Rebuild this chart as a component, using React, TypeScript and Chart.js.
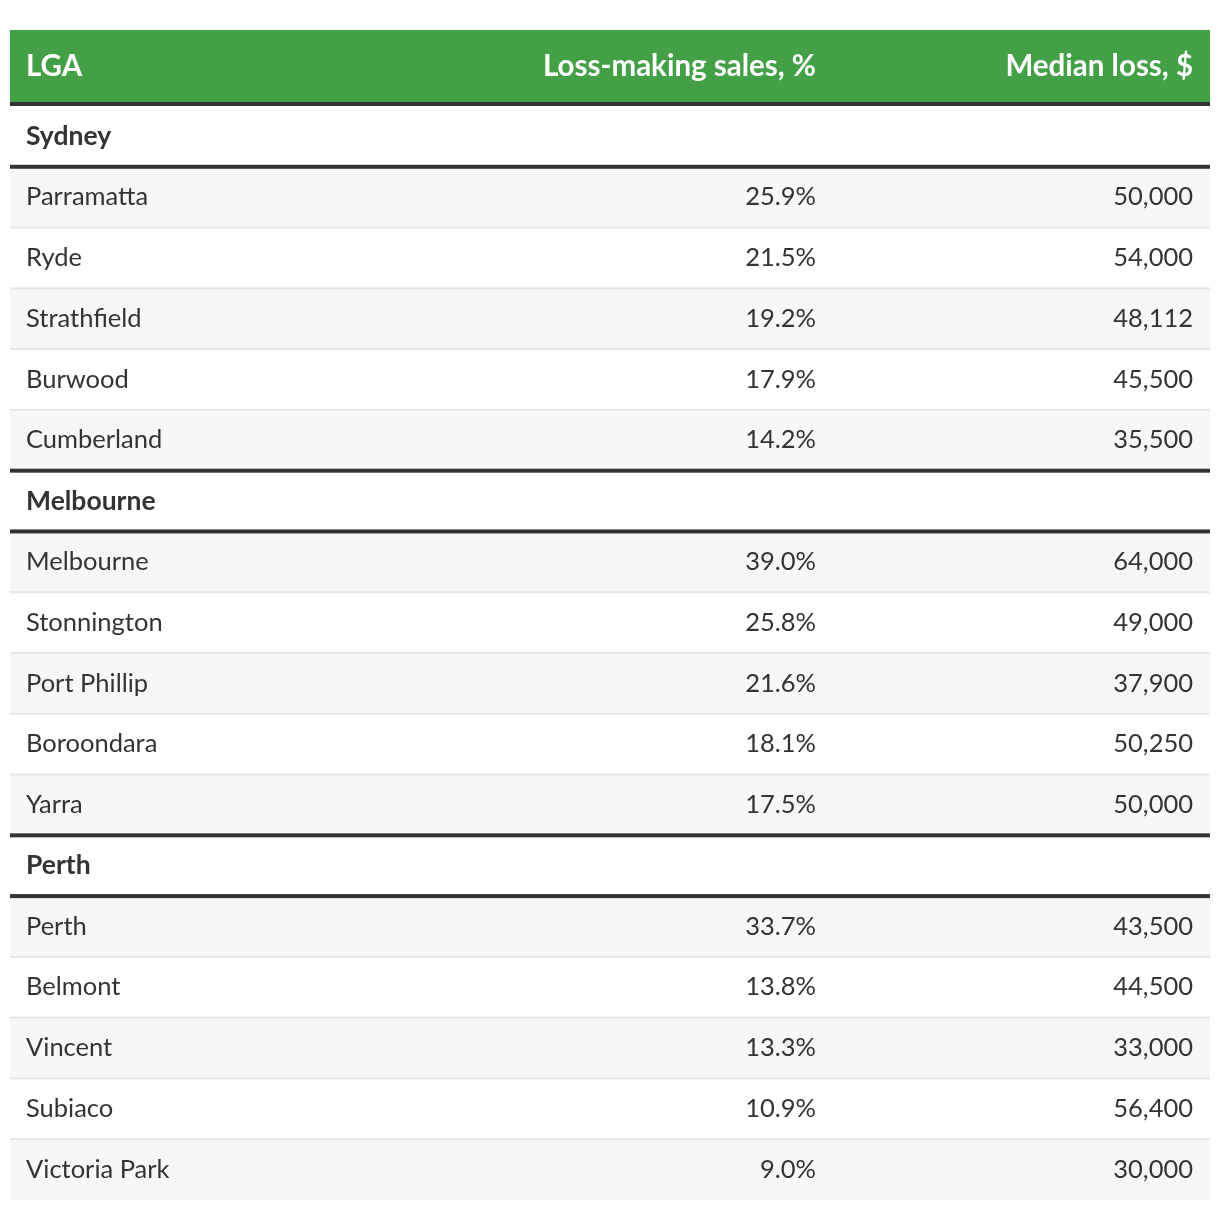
import React, { useEffect, useRef } from "react";
import { Chart, registerables } from "chart.js";

Chart.register(...registerables);

// ---- Data ----
const columnHeaders = ["LGA", "Loss-making sales, %", "Median loss, $"];
const cityGroups = ["Sydney", "Melbourne", "Perth"];

const sydneyLGAs = ["Parramatta", "Ryde", "Strathfield", "Burwood", "Cumberland"];
const sydneyLossPct = [25.9, 21.5, 19.2, 17.9, 14.2];
const sydneyMedianLoss = [50000, 54000, 48112, 45500, 35500];

const melbourneLGAs = ["Melbourne", "Stonnington", "Port Phillip", "Boroondara", "Yarra"];
const melbourneLossPct = [39.0, 25.8, 21.6, 18.1, 17.5];
const melbourneMedianLoss = [64000, 49000, 37900, 50250, 50000];

const perthLGAs = ["Perth", "Belmont", "Vincent", "Subiaco", "Victoria Park"];
const perthLossPct = [33.7, 13.8, 13.3, 10.9, 9.0];
const perthMedianLoss = [43500, 44500, 33000, 56400, 30000];

// ---- Style ----
const GREEN = "#43a047";
const DARK = "#333333";
const TEXT = "#333333";
const STRIPE = "#f7f7f7";
const LIGHT_BORDER = "#e6e6e6";
const FONT_FAMILY = 'Lato, "Open Sans", sans-serif';
const HEADER_FONT = `bold 29.5px ${FONT_FAMILY}`;
const GROUP_FONT = `bold 26.5px ${FONT_FAMILY}`;
const BODY_FONT = `25.5px ${FONT_FAMILY}`;
const HEADER_H = 72;
const HEADER_BORDER = 4;
// column anchors as fractions of table width
const colLeft = 16 / 1200;
const colPctRight = 806 / 1200;
const colLossRight = 1183 / 1200;

type Row =
  | { kind: "group"; label: string }
  | { kind: "data"; lga: string; pct: number; loss: number; stripe: boolean };

function buildRows(): Row[] {
  const sets = [
    [sydneyLGAs, sydneyLossPct, sydneyMedianLoss],
    [melbourneLGAs, melbourneLossPct, melbourneMedianLoss],
    [perthLGAs, perthLossPct, perthMedianLoss],
  ] as [string[], number[], number[]][];
  const rows: Row[] = [];
  cityGroups.forEach((g, gi) => {
    rows.push({ kind: "group", label: g });
    const [names, pcts, losses] = sets[gi];
    names.forEach((n, i) =>
      rows.push({ kind: "data", lga: n, pct: pcts[i], loss: losses[i], stripe: i % 2 === 0 })
    );
  });
  return rows;
}

export default function App() {
  const ref = useRef<HTMLCanvasElement | null>(null);

  useEffect(() => {
    if (!ref.current) return;
    const rows = buildRows();
    const labels = rows.map((r, i) => (r.kind === "group" ? r.label : r.lga) + "#" + i);

    const tablePlugin = {
      id: "tablePlugin",
      beforeDatasetsDraw(chart: any) {
        const ctx = chart.ctx;
        const w = chart.width;
        ctx.save();
        ctx.fillStyle = GREEN;
        ctx.fillRect(0, 0, w, HEADER_H);
        ctx.fillStyle = DARK;
        ctx.fillRect(0, HEADER_H, w, HEADER_BORDER);
        ctx.restore();
      },
      afterDatasetsDraw(chart: any) {
        const ctx = chart.ctx;
        const xs = chart.scales.x;
        const ys = chart.scales.y;
        const left = xs.left;
        const right = xs.right;
        const xL = xs.getPixelForValue(colLeft);
        const xP = xs.getPixelForValue(colPctRight);
        const xM = xs.getPixelForValue(colLossRight);
        ctx.save();
        // borders
        for (let i = 1; i < rows.length; i++) {
          const yb = (ys.getPixelForValue(i - 1) + ys.getPixelForValue(i)) / 2;
          const dark = rows[i].kind === "group" || rows[i - 1].kind === "group";
          if (dark) {
            ctx.fillStyle = DARK;
            ctx.fillRect(left, yb - 2, right - left, 4);
          } else {
            ctx.fillStyle = LIGHT_BORDER;
            ctx.fillRect(left, yb - 1, right - left, 2);
          }
        }
        // header text
        ctx.textBaseline = "middle";
        ctx.fillStyle = "#ffffff";
        ctx.font = HEADER_FONT;
        const hy = HEADER_H / 2;
        ctx.textAlign = "left";
        ctx.fillText(columnHeaders[0], xL, hy);
        ctx.textAlign = "right";
        ctx.fillText(columnHeaders[1], xP, hy);
        ctx.fillText(columnHeaders[2], xM, hy);
        // rows
        rows.forEach((r, i) => {
          const y = ys.getPixelForValue(i);
          ctx.fillStyle = TEXT;
          if (r.kind === "group") {
            ctx.font = GROUP_FONT;
            ctx.textAlign = "left";
            ctx.fillText(r.label, xL, y);
          } else {
            ctx.font = BODY_FONT;
            ctx.textAlign = "left";
            ctx.fillText(r.lga, xL, y);
            ctx.textAlign = "right";
            ctx.fillText(r.pct.toFixed(1) + "%", xP, y);
            ctx.fillText(r.loss.toLocaleString("en-US"), xM, y);
          }
        });
        ctx.restore();
      },
    };

    const chart = new Chart(ref.current, {
      type: "bar",
      data: {
        labels,
        datasets: [
          {
            data: rows.map(() => [0, 1]) as any,
            backgroundColor: rows.map((r) =>
              r.kind === "data" && r.stripe ? STRIPE : "#ffffff"
            ),
            borderWidth: 0,
            barPercentage: 1,
            categoryPercentage: 1,
          },
        ],
      },
      options: {
        indexAxis: "y",
        responsive: false,
        animation: false,
        layout: { padding: { top: HEADER_H + HEADER_BORDER, left: 0, right: 0, bottom: 0 } },
        plugins: { legend: { display: false }, tooltip: { enabled: false } },
        scales: {
          x: { type: "linear", min: 0, max: 1, display: false },
          y: { type: "category", display: false, offset: true },
        },
      },
      plugins: [tablePlugin],
    });
    return () => chart.destroy();
  }, []);

  return (
    <div style={{ paddingTop: 22, paddingLeft: 2 }}>
      <canvas ref={ref} width={1200} height={1170} style={{ display: "block", width: 1200, height: 1170 }} />
    </div>
  );
}
